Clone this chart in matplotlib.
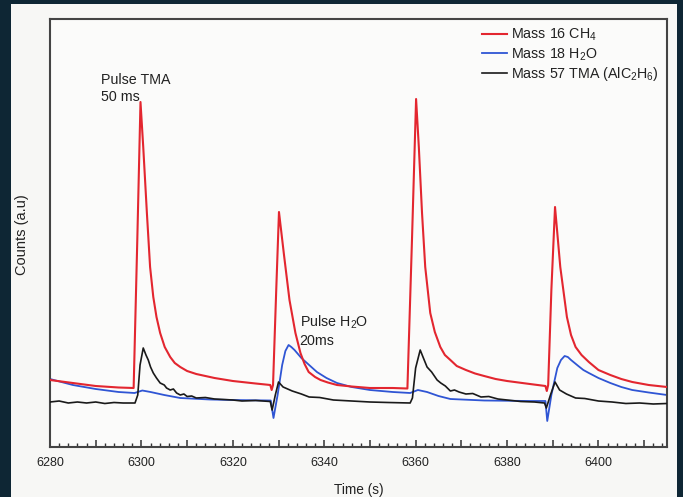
import matplotlib
matplotlib.use("Agg")
import matplotlib.pyplot as plt
from matplotlib.ticker import MultipleLocator, FuncFormatter
from matplotlib.patches import Rectangle

plt.rcParams['font.family'] = ['Liberation Sans', 'DejaVu Sans']
plt.rcParams['mathtext.default'] = 'regular'

# ---- data (counts in arbitrary units) ----
t_ch4 = [6280, 6285, 6290, 6295, 6298.3, 6299.1, 6299.8, 6300.4, 6301.2, 6301.9, 6302.6,
         6303.3, 6304.1, 6305.1, 6306.3, 6307.3, 6308.5, 6310, 6312, 6314, 6316, 6320,
         6325, 6328.2, 6328.5, 6328.8, 6329.5,
         6330.1, 6331.2, 6332.4, 6333.7, 6334.8, 6335.7, 6336.6, 6338, 6339.2, 6340.8,
         6342.8, 6346, 6350, 6355,
         6358.2, 6359.2, 6360.1, 6360.7, 6361.4, 6362.1, 6363.2, 6364.2, 6365.4, 6366.4,
         6367.6, 6369, 6371, 6373, 6375, 6377.5, 6380, 6385, 6388.4, 6388.7, 6389.0,
         6389.7, 6390.5, 6391.65, 6393.1, 6394, 6395.0, 6396.3, 6397.9, 6400, 6402.6,
         6405, 6407.4, 6411, 6415]
c_ch4 = [67, 64, 61, 59.5, 59, 207, 345, 300, 234, 180, 150,
         130, 114, 100, 90, 84, 80, 76, 73, 71, 69, 66,
         63.5, 62, 57, 62, 157,
         235, 192, 147, 114, 94, 83, 75, 70, 67, 64.5,
         62, 60.5, 59, 59,
         58.5, 207, 348, 300, 234, 180, 134, 115, 100, 92,
         87, 81, 77, 73.5, 71, 68, 66, 63, 61, 56, 62,
         157, 240, 180, 130, 112, 100, 92, 85, 77, 72,
         68, 65, 62, 60]

t_h2o = [6280, 6285, 6290, 6295, 6298.5, 6300.2, 6302, 6305, 6308.5, 6315, 6320, 6328.3,
         6328.9, 6329.8, 6330.8, 6331.5, 6332.2, 6332.8, 6333.5, 6335, 6336.7, 6338.4,
         6340.5, 6342.8, 6346, 6350, 6355, 6358.8,
         6360.5, 6362.5, 6365, 6367.6, 6375, 6385, 6388.4, 6388.8, 6389.7, 6391, 6391.8,
         6392.6, 6393.3, 6394, 6395.6, 6396.7, 6397.9, 6400, 6402.6, 6405, 6407.4, 6411,
         6415]
c_h2o = [68, 62, 58, 55, 54, 56.5, 55, 52, 49, 47.5, 47, 46.5,
         29, 52, 82, 96, 102, 100, 97, 89, 82, 75,
         69, 64, 60, 57, 55, 54,
         57, 55, 51, 48, 46.5, 46, 46, 26, 52, 79, 87,
         91, 90, 87, 81, 77, 74, 69, 64, 60, 57, 54.5,
         52]

t_tma = [6280, 6282, 6284, 6286, 6288, 6290, 6292, 6294, 6296, 6298.6, 6299.2, 6299.7,
         6300.4, 6301, 6301.5, 6302, 6302.6, 6303.3, 6304.1, 6305, 6305.5, 6306.3, 6307,
         6307.7, 6308.5, 6309.3, 6310, 6311, 6312, 6314, 6316, 6318, 6320, 6322, 6325,
         6328.2, 6328.6, 6329.3, 6330, 6331, 6332, 6333, 6335, 6336.7, 6339, 6342, 6346,
         6350, 6354, 6358.8, 6359.3, 6360, 6361, 6361.7, 6362.5, 6363.5, 6364.7, 6365.5,
         6366.5, 6367.6, 6368.5, 6369.5, 6371, 6372.5, 6374.3, 6376, 6378, 6380, 6383,
         6386, 6388.2, 6388.6, 6389.5, 6390.5, 6391.5, 6393, 6395, 6397, 6400, 6403,
         6406, 6409, 6412, 6415]
c_tma = [45, 46, 44, 45, 44, 45, 43.5, 44.5, 44, 44, 52, 82,
         99, 92, 87, 80, 74, 69, 64, 62, 59, 57, 58,
         54, 52, 53, 50.5, 51, 49, 49.5, 48, 47.5, 47, 46, 46.5,
         45.5, 37, 52, 65, 60, 58, 56, 53, 50, 49.5, 47, 46,
         45, 44.5, 44, 49, 79, 97, 89, 80, 75, 67, 64,
         61, 56, 57, 55, 53, 53.5, 50, 50.5, 48, 47, 45.5,
         45, 44, 39, 52, 65, 57, 53, 49, 48.5, 46, 45,
         43.5, 44, 43, 43.5]

series_labels = ['Mass 16 CH$_4$', 'Mass 18 H$_2$O', 'Mass 57 TMA (AlC$_2$H$_6$)']
x_ticks_labeled = [6280, 6300, 6320, 6340, 6360, 6380, 6400]

# ---- figure ----
fig = plt.figure(figsize=(6.83, 4.97), dpi=100, facecolor='#0e2634')
panel = Rectangle((11 / 683, 0), 666 / 683, 493 / 497,
                  transform=fig.transFigure, facecolor='#f7f7f5',
                  edgecolor='none', zorder=-10)
fig.add_artist(panel)

ax = fig.add_axes([50 / 683, 50 / 497, 617 / 683, 428 / 497])
ax.set_zorder(1)
ax.set_facecolor('#fbfbfa')

ax.plot(t_ch4, c_ch4, color='#e3262f', lw=1.5, label=series_labels[0], zorder=3)
ax.plot(t_h2o, c_h2o, color='#2f55d4', lw=1.3, label=series_labels[1], zorder=2)
ax.plot(t_tma, c_tma, color='#1a1a1a', lw=1.2, label=series_labels[2], zorder=4)

ax.set_xlim(6280, 6415)
ax.set_ylim(0, 428)
ax.set_yticks([])

ax.xaxis.set_major_locator(MultipleLocator(10))
ax.xaxis.set_minor_locator(MultipleLocator(2))
ax.xaxis.set_major_formatter(FuncFormatter(
    lambda v, p: f"{int(round(v))}" if int(round(v)) in x_ticks_labeled else ""))
ax.tick_params(axis='x', which='major', direction='in', length=5, width=1.1,
               color='#333333', labelsize=9, pad=7, labelcolor='#222222')
ax.tick_params(axis='x', which='minor', direction='in', length=3, width=1.0,
               color='#333333')

for s in ax.spines.values():
    s.set_color('#444444')
    s.set_linewidth(1.5)

ax.set_xlabel('Time (s)', fontsize=9.8, color='#222222', labelpad=10)
fig.text(22 / 683, 1 - 235 / 497, 'Counts (a.u)', rotation=90, fontsize=10.5,
         color='#222222', ha='center', va='center', zorder=5)

ax.text(6291.2, 343, 'Pulse TMA\n50 ms', fontsize=10.3, color='#222222',
        ha='left', va='bottom', linespacing=1.25)
ax.text(6334.6, 99, 'Pulse H$_2$O\n20ms', fontsize=10.3, color='#222222',
        ha='left', va='bottom', linespacing=1.25)

leg = ax.legend(loc='upper right', frameon=False, fontsize=10.3, handlelength=1.75,
                handletextpad=0.3, labelspacing=0.2, borderaxespad=0.15)
for txt in leg.get_texts():
    txt.set_color('#222222')

fig.savefig('out.png', dpi=100, facecolor=fig.get_facecolor())
